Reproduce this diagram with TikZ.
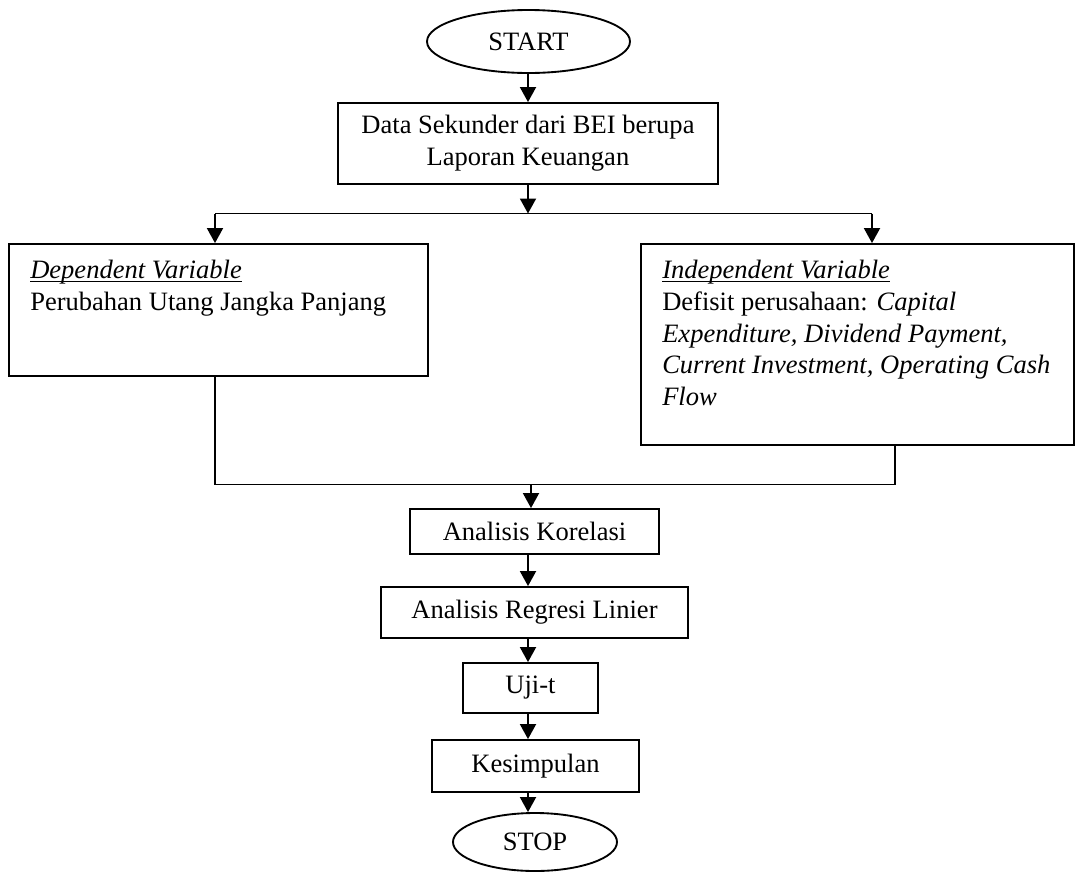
\documentclass[tikz,border=0pt]{standalone}
\usepackage{fontspec}
\setmainfont{Liberation Serif}
\usetikzlibrary{arrows.meta,shapes.geometric}
\newcommand\myul[1]{\sbox0{#1}\rlap{\rule[-2.6pt]{\wd0}{0.9pt}}\usebox0}
\begin{document}
\begin{tikzpicture}[x=0.75pt,y=-0.75pt,
  every node/.style={font=\fontsize{19.9pt}{23.8pt}\selectfont},
  box/.style={draw, line width=1.4pt, rectangle, inner sep=0pt, align=center},
  term/.style={draw, line width=1.4pt, ellipse, inner sep=0pt},
  conn/.style={line width=1.4pt},
  arr/.style={conn, -{Triangle[length=11.25pt,width=12pt]}},
  txt/.style={inner sep=0pt, align=left, anchor=north west}]
\useasboundingbox (0,0) rectangle (1075,872);

\node[term, minimum width=152.25pt, minimum height=47.25pt] (start) at (528.5,41.5) {START};
\node[box, minimum width=285pt, minimum height=60.75pt] (data) at (528,143.5) {Data Sekunder dari BEI berupa\\Laporan Keuangan};
\node[box, minimum width=314.25pt, minimum height=99pt] (lbox) at (218.5,310) {};
\node[box, minimum width=324.75pt, minimum height=150.75pt] (rbox) at (857.5,344.5) {};
\node[txt] (ltxt) at (30,260) {\myul{\textit{Dependent Variable}}\\Perubahan Utang Jangka Panjang};
\node[txt] (rtxt) at (662,260) {\myul{\textit{Independent Variable}}\\Defisit perusahaan: \textit{Capital}\\\textit{Expenditure, Dividend Payment,}\\\textit{Current Investment, Operating Cash}\\\textit{Flow}};
\node[box, minimum width=186.75pt, minimum height=33.75pt] (kor) at (534.5,531.5) {Analisis Korelasi};
\node[box, minimum width=230.25pt, minimum height=38.25pt] (reg) at (534.5,612.5) {Analisis Regresi Linier};
\node[box, minimum width=101.25pt, minimum height=37.5pt] (uji) at (530.5,688) {Uji-t};
\node[box, minimum width=155.25pt, minimum height=39pt] (kes) at (535.5,766) {Kesimpulan};
\node[term, minimum width=123pt, minimum height=43.5pt] (stop) at (535,842) {STOP};

\coordinate (ax) at (528,0);
\coordinate (sL) at (215,213.5);
\coordinate (sR) at (872,213.5);
\coordinate (sM) at (528,213.5);
\coordinate (mL) at (215,484.5);
\coordinate (mR) at (895,484.5);
\coordinate (mM) at (531,484.5);

\draw[arr] (start.south -| ax) -- (data.north -| ax);
\draw[arr] (data.south -| ax) -- (sM);
\draw[conn] (sL) -- (sR);
\draw[arr] (sL) -- (sL |- lbox.north);
\draw[arr] (sR) -- (sR |- rbox.north);
\draw[conn] (mL |- lbox.south) -- (mL) -- (mR) -- (mR |- rbox.south);
\draw[arr] (mM) -- (mM |- kor.north);
\draw[arr] (kor.south -| ax) -- (reg.north -| ax);
\draw[arr] (reg.south -| ax) -- (uji.north -| ax);
\draw[arr] (uji.south -| ax) -- (kes.north -| ax);
\draw[arr] (kes.south -| ax) -- (stop.north -| ax);
\end{tikzpicture}
\end{document}
